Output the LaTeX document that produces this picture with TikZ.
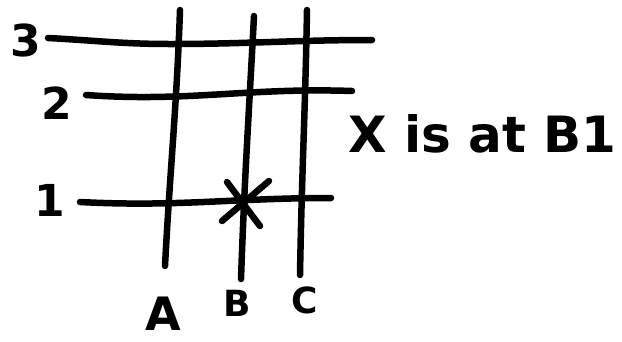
\documentclass[tikz,border=0pt]{standalone}
\usepackage{fontspec}
\setmainfont{DejaVu Sans}
\begin{document}
\begin{tikzpicture}[x=1pt, y=-1pt, line cap=round, line join=round]
      \tikzset{gridline/.style={draw, line width=6.5pt},
               lbl/.style={inner sep=0pt, font=\fontsize{44}{44}\selectfont\bfseries}}
      \useasboundingbox (0,0) rectangle (622,341);

      % row ends
      \coordinate (r3w) at (48,38);  \coordinate (r3e) at (372,40);
      \coordinate (r2w) at (86,95);  \coordinate (r2e) at (352,91);
      \coordinate (r1w) at (80,202); \coordinate (r1e) at (331,198);
      % column ends
      \coordinate (cAn) at (180,10); \coordinate (cAs) at (165,266);
      \coordinate (cBn) at (254,16); \coordinate (cBs) at (241,279);
      \coordinate (cCn) at (307,10); \coordinate (cCs) at (300,275);

      \draw[gridline] (r3w) to[out=-3,in=180] (170,44) to[out=0,in=180] (r3e);
      \draw[gridline] (r2w) to[out=-4,in=178] (r2e);
      \draw[gridline] (r1w) to[out=-3,in=180] (r1e);
      \draw[gridline] (cAn) to[out=-92,in=87] (cAs);
      \draw[gridline] (cBn) to[out=-93,in=88] (cBs);
      \draw[gridline] (cCn) to[out=-91,in=89] (cCs);

      % the mark at B1
      \coordinate (m1) at (227,182); \coordinate (m2) at (260,226);
      \coordinate (m3) at (269,181); \coordinate (m4) at (222,221);
      \draw[gridline] (m1) -- (m2);
      \draw[gridline] (m3) -- (m4);

      \node[lbl] (n3) at (26,40) {3};
      \node[lbl] (n2) at (57,103) {2};
      \node[lbl] (n1) at (50,200) {1};
      \node[lbl, font=\fontsize{46}{46}\selectfont\bfseries] (lA) at (163,314) {A};
      \node[lbl, font=\fontsize{36}{36}\selectfont\bfseries] (lB) at (237,303) {B};
      \node[lbl, font=\fontsize{36}{36}\selectfont\bfseries] (lC) at (305,300) {C};
      \node[lbl, anchor=west, font=\fontsize{50}{50}\selectfont\bfseries] (note) at (348,134) {X is at B1};
    \end{tikzpicture}
\end{document}
